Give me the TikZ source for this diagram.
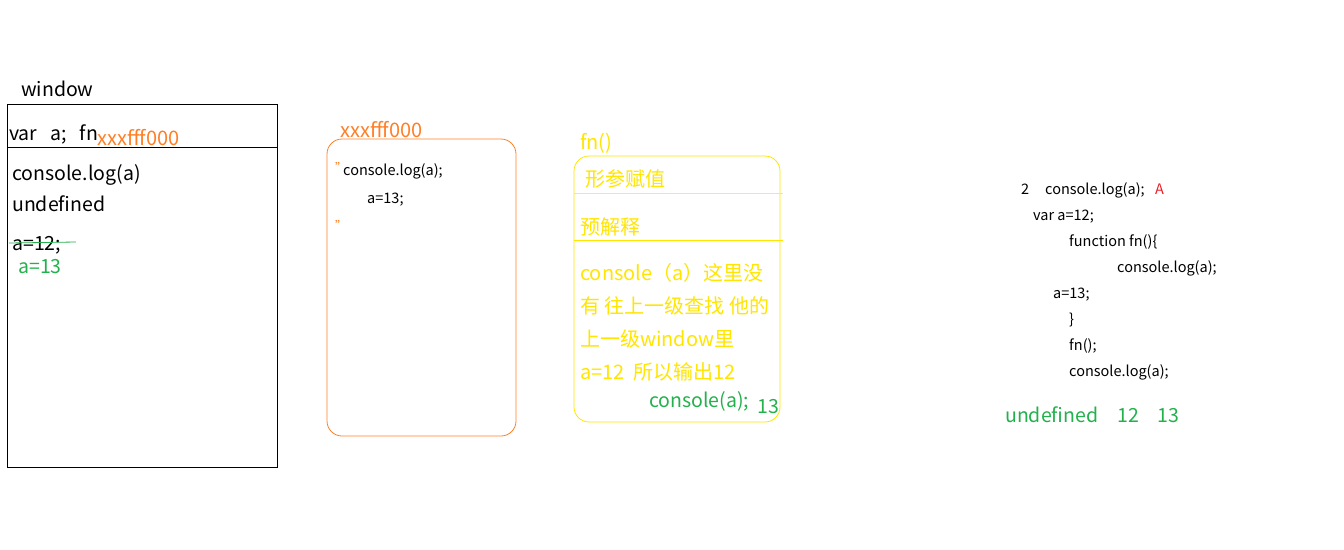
\documentclass[tikz,border=0pt]{standalone}
\usepackage{fontspec}
\setmainfont{Noto Sans CJK SC}
\definecolor{org}{HTML}{FF7F27}
\definecolor{yel}{HTML}{FFE500}
\definecolor{grn}{HTML}{22B14C}
\definecolor{red}{HTML}{ED1C24}
\begin{document}
\begin{tikzpicture}[x=1pt,y=-1pt,
  big/.style={inner sep=0pt,anchor=base west,font=\fontsize{19.5}{19.5}\selectfont},
  addr/.style={inner sep=0pt,anchor=base west,text=org,font=\fontsize{20}{20}\selectfont},
  yt/.style={inner sep=0pt,anchor=base west,text=yel,font=\fontsize{20}{20}\selectfont},
  small/.style={inner sep=0pt,anchor=base west,font=\fontsize{14.5}{14.5}\selectfont},
  quote/.style={inner sep=0pt,anchor=base west,text=org,font=\fontsize{12}{12}\selectfont},
  thin/.style={line width=0.8pt}]
\useasboundingbox (0,0) rectangle (1344,549);
% window
\node[big] (win) at (21,96) {window};
\draw[thin] (7,104) rectangle (277,467);
\coordinate (wl) at (7,147); \coordinate (wr) at (278,147);
\draw[thin] (wl) -- (wr);
\node[big] (var) at (9,140) {var\kern13pt a;\kern13pt fn};
\node[addr] (addr1) at (97,145) {xxxfff000};
\node[big] (log1) at (12,180) {console.log(a)};
\node[big] (und) at (12,211) {undefined};
\node[big] (a12) at (12,250) {a=12;};
\coordinate (s1) at (9,243); \coordinate (s2) at (76,242);
\draw[grn,thin] (s1) -- (s2);
\node[big,text=grn] (a13) at (18,273) {a=13};
% heap box
\node[addr] (addr2) at (340,137) {xxxfff000};
\draw[org,thin,rounded corners=15pt] (327,139) rectangle (516,436);
\node[quote] (q1) at (335,172) {"};
\node[small] (hl1) at (343,175) {console.log(a);};
\node[small] (hl2) at (367,203) {a=13;};
\node[quote] (q2) at (335,230) {"};
% fn box
\node[yt] (fn) at (580,149) {fn()};
\draw[yel,thin,rounded corners=15pt] (574,156) rectangle (780,422);
\node[yt] (xc) at (585,186) {形参赋值};
\coordinate (l1a) at (574,193); \coordinate (l1b) at (783,193);
\draw[yel!70,thin] (l1a) -- (l1b);
\node[yt] (yj) at (580,234) {预解释};
\coordinate (l2a) at (574,240); \coordinate (l2b) at (783,240);
\draw[yel,thin] (l2a) -- (l2b);
\node[yt] (t1) at (580,280) {console（a）这里没};
\node[yt] (t2) at (580,313) {有 往上一级查找 他的};
\node[yt] (t3) at (580,346) {上一级window里};
\node[yt] (t4) at (580,379) {a=12\ \ 所以输出12};
\node[big,text=grn] (c5) at (649,407) {console(a);};
\node[big,text=grn] (n13) at (757,413) {13};
% code
\node[small] (k0) at (1021,194) {2};
\node[small] (k1) at (1045,194) {console.log(a);};
\node[small,text=red] (kA) at (1155,194) {A};
\node[small] (k2) at (1033,220) {var a=12;};
\node[small] (k3) at (1069,246) {function fn()\{};
\node[small] (k4) at (1117,272) {console.log(a);};
\node[small] (k5) at (1053,298) {a=13;};
\node[small] (k6) at (1069,324) {\}};
\node[small] (k7) at (1069,350) {fn();};
\node[small] (k8) at (1069,376) {console.log(a);};
\node[big,text=grn] (r1) at (1005,422) {undefined};
\node[big,text=grn] (r2) at (1117,422) {12};
\node[big,text=grn] (r3) at (1157,422) {13};
\end{tikzpicture}
\end{document}
